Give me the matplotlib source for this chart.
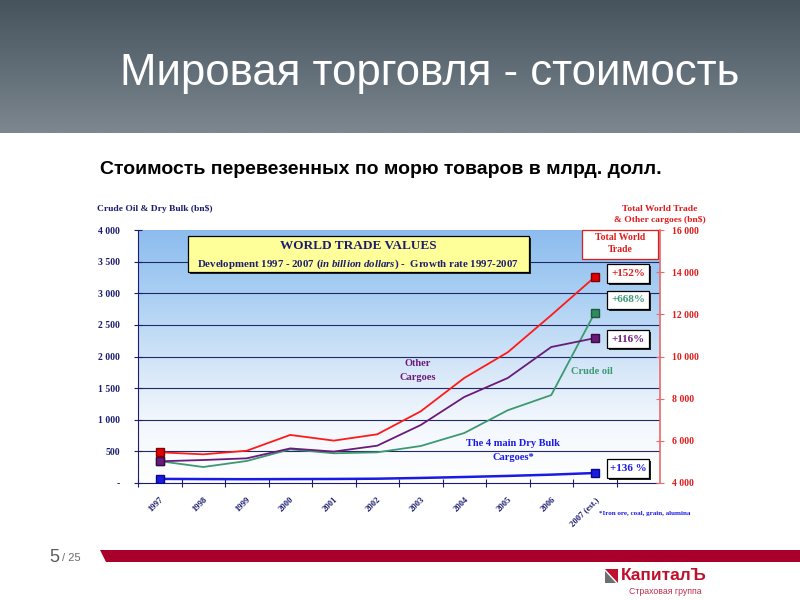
"""Slide: world sea-borne trade values 1997-2007."""

import matplotlib

matplotlib.use("Agg")
import matplotlib.pyplot as plt
import numpy as np
from matplotlib.colors import LinearSegmentedColormap
from matplotlib.patches import Polygon, Rectangle
from matplotlib.ticker import FuncFormatter

YEARS = ["1997", "1998", "1999", "2000", "2001", "2002",
         "2003", "2004", "2005", "2006", "2007 (est.)"]
# left axis, bn$
DRY_BULK = [65, 62, 60, 62, 64, 68, 80, 95, 112, 132, 158]
CRUDE_OIL = [345, 253, 348, 533, 470, 485, 585, 790, 1150, 1390, 2690]
# right axis, bn$
TOTAL_TRADE = [5456, 5360, 5530, 6280, 6010, 6310, 7400, 8980, 10200, 11960, 13770]
OTHER_CARGOES = [5030, 5090, 5170, 5640, 5490, 5770, 6750, 8080, 8980, 10450, 10870]

LEFT_TICKS = list(range(0, 4001, 500))
RIGHT_TICKS = list(range(4000, 16001, 2000))

NAVY = "#1c1c70"
RED = "#e01b1b"
RED_LINE = "#ff1a1a"
PURPLE = "#6b1a7a"
GREEN = "#3c9970"
BLUE = "#1a1ae6"
SERIF = "Liberation Serif"

W, H = 800, 600

plt.rcParams["mathtext.fontset"] = "custom"
plt.rcParams["mathtext.it"] = "Liberation Serif:italic:bold"
plt.rcParams["mathtext.rm"] = "Liberation Serif:bold"


def fig_rect(x0, y0, x1, y1):
    return [x0 / W, 1 - y1 / H, (x1 - x0) / W, (y1 - y0) / H]


def thousands(v, _pos=None):
    if v == 0:
        return "-"
    return f"{int(v):,}".replace(",", " ")


def box(ax, x0, y0, x1, y1, edge="black", face="white", shadow=True):
    if shadow:
        ax.add_patch(Rectangle((x0 + 2, y0 + 2), x1 - x0, y1 - y0,
                               facecolor="#222222", edgecolor="none", zorder=4))
    ax.add_patch(Rectangle((x0, y0), x1 - x0, y1 - y0, facecolor=face,
                           edgecolor=edge, lw=0.9, zorder=5))


fig = plt.figure(figsize=(8, 6), dpi=100)

# ---- chart ----
ax = fig.add_axes(fig_rect(138, 230, 660, 483))
x = np.arange(len(YEARS))
bg = LinearSegmentedColormap.from_list(
    "bg", ["#ffffff", "#f2f7fd", "#cfe3f7", "#a9cff3", "#8cbcee"])
ax.imshow(np.linspace(0, 1, 256).reshape(-1, 1), extent=(-0.5, 11.5, 0, 4000),
          origin="lower", aspect="auto", cmap=bg, zorder=0)
for v in LEFT_TICKS[1:-1]:
    ax.axhline(v, color="#1f2a66", lw=0.8, zorder=1)

ax.plot(x, CRUDE_OIL, color=GREEN, lw=1.3, marker="s", markevery=[0, len(x) - 1],
        ms=5.5, mfc="#2f8a60", mec="#1d5a3c", zorder=3)
ax.plot(x, DRY_BULK, color=BLUE, lw=1.8, marker="s", markevery=[0, len(x) - 1],
        ms=5.5, mfc=BLUE, mec="#0a0a80", zorder=3)

ax.set_xlim(-0.5, 11.5)
ax.set_ylim(0, 4000)
ax.set_xticks(np.arange(-0.5, 11, 1))
ax.set_xticks(x, minor=True)
ax.set_xticklabels(YEARS, minor=True, rotation=45, ha="right",
                   rotation_mode="anchor", family=SERIF, fontweight="bold",
                   fontsize=6.2, color=NAVY)
ax.tick_params(axis="x", which="major", direction="inout", length=6,
               color=NAVY, labelbottom=False)
ax.tick_params(axis="x", which="minor", length=0, pad=9)
ax.set_yticks(LEFT_TICKS)
ax.yaxis.set_major_formatter(FuncFormatter(thousands))
ax.tick_params(axis="y", direction="inout", length=6, color=NAVY, pad=10,
               labelsize=7, labelcolor=NAVY)
for lbl in ax.get_yticklabels():
    lbl.set_family(SERIF)
    lbl.set_fontweight("bold")
for side in ("top", "right"):
    ax.spines[side].set_visible(False)
for side in ("left", "bottom"):
    ax.spines[side].set_color(NAVY)

ax2 = ax.twinx()
ax2.plot(x, OTHER_CARGOES, color=PURPLE, lw=1.3, marker="s",
         markevery=[0, len(x) - 1], ms=5.5, mfc=PURPLE, mec="#3a0a45", zorder=3)
ax2.plot(x, TOTAL_TRADE, color=RED_LINE, lw=1.3, marker="s",
         markevery=[0, len(x) - 1], ms=5.5, mfc="#e00000", mec="#800000", zorder=3)
ax2.set_ylim(4000, 16000)
ax2.set_yticks(RIGHT_TICKS)
ax2.yaxis.set_major_formatter(FuncFormatter(thousands))
ax2.tick_params(axis="y", direction="inout", length=6, color="#e86a6a", pad=6,
                labelsize=7, labelcolor=RED)
for lbl in ax2.get_yticklabels():
    lbl.set_family(SERIF)
    lbl.set_fontweight("bold")
for side in ("top", "left", "bottom"):
    ax2.spines[side].set_visible(False)
ax2.spines["right"].set_color("#e86a6a")
ax2.spines["right"].set_linewidth(1.2)

# ---- overlay in pixel coordinates ----
ov = fig.add_axes([0, 0, 1, 1], zorder=10)
ov.patch.set_visible(False)
head = LinearSegmentedColormap.from_list("head", ["#46535d", "#7c878f"])
ov.imshow(np.linspace(0, 1, 100).reshape(-1, 1), extent=(0, W, 133, 0),
          aspect="auto", cmap=head, zorder=0)
ov.set_xlim(0, W)
ov.set_ylim(H, 0)
ov.axis("off")

ov.text(120, 73, "Мировая торговля - стоимость", color="white", fontsize=31.5,
        family="Liberation Sans", ha="left", va="center")
ov.text(100, 170, "Стоимость перевезенных по морю товаров в млрд. долл.",
        color="black", fontsize=14, fontweight="bold", family="Liberation Sans",
        ha="left", va="center")

serif_bold = dict(family=SERIF, fontweight="bold")
ov.text(97, 209, "Crude Oil & Dry Bulk (bn$)", color=NAVY, fontsize=6.8,
        ha="left", va="center", **serif_bold)
ov.text(660, 209, "Total World Trade", color=RED, fontsize=6.8,
        ha="center", va="center", **serif_bold)
ov.text(660, 220, "& Other cargoes (bn$)", color=RED, fontsize=6.8,
        ha="center", va="center", **serif_bold)

box(ov, 188, 236, 529, 272, face="#ffff99")
ov.text(358, 246, "WORLD TRADE VALUES", color=NAVY, fontsize=9.5, ha="center",
        va="center", zorder=6, **serif_bold)
ov.text(358, 264,
        r"Development 1997 - 2007 $\it{(in\ billion\ dollars)}$ -  Growth rate 1997-2007",
        color=NAVY, fontsize=7.8, ha="center", va="center", zorder=6, **serif_bold)

box(ov, 582, 230, 658, 259, edge=RED, shadow=False)
ov.text(620, 238, "Total World", color=RED, fontsize=7, ha="center", va="center",
        zorder=6, **serif_bold)
ov.text(620, 250, "Trade", color=RED, fontsize=7, ha="center", va="center",
        zorder=6, **serif_bold)

for (y0, y1, s, c) in [(264, 283, "+152%", RED), (291, 309, "+668%", GREEN),
                       (330, 348, "+116%", PURPLE), (459, 478, "+136 %", BLUE)]:
    box(ov, 607, y0, 649, y1)
    ov.text(628, (y0 + y1) / 2, s, color=c, fontsize=8, ha="center", va="center",
            zorder=6, **serif_bold)

ov.text(418, 363, "Other", color=PURPLE, fontsize=7.5, ha="center", va="center",
        **serif_bold)
ov.text(418, 377, "Cargoes", color=PURPLE, fontsize=7.5, ha="center", va="center",
        **serif_bold)
ov.text(592, 372, "Crude oil", color=GREEN, fontsize=7.5, ha="center",
        va="center", **serif_bold)
ov.text(513, 443, "The 4 main Dry Bulk", color=BLUE, fontsize=7.5, ha="center",
        va="center", **serif_bold)
ov.text(513, 457, "Cargoes*", color=BLUE, fontsize=7.5, ha="center", va="center",
        **serif_bold)
ov.text(599, 513, "*Iron ore, coal, grain, alumina", color=BLUE, fontsize=5,
        ha="left", va="center", **serif_bold)

# ---- footer ----
ov.add_patch(Polygon([(100, 550), (W, 550), (W, 562), (106, 562)],
                     closed=True, facecolor="#a8002a", edgecolor="none"))
ov.text(59, 557, "5", color="#5a5a5a", fontsize=13, ha="right", va="center",
        family="Liberation Sans")
ov.text(62, 558, "/ 25", color="#6a6a6a", fontsize=8, ha="left", va="center",
        family="Liberation Sans")
ov.add_patch(Polygon([(605, 569), (618, 569), (618, 583)], closed=True,
                     facecolor="#c0102c", edgecolor="none"))
ov.add_patch(Polygon([(605, 571), (616, 583), (605, 583)], closed=True,
                     facecolor="#6a6f73", edgecolor="none"))
ov.text(621, 576, "КапиталЪ", color="#c0102c", fontsize=12.5, fontweight="bold",
        family="Liberation Sans", ha="left", va="center")
ov.text(665, 591, "Страховая группа", color="#c03050", fontsize=6.3,
        family="Liberation Sans", ha="center", va="center")

fig.savefig("out.png", dpi=100)
plt.close(fig)
